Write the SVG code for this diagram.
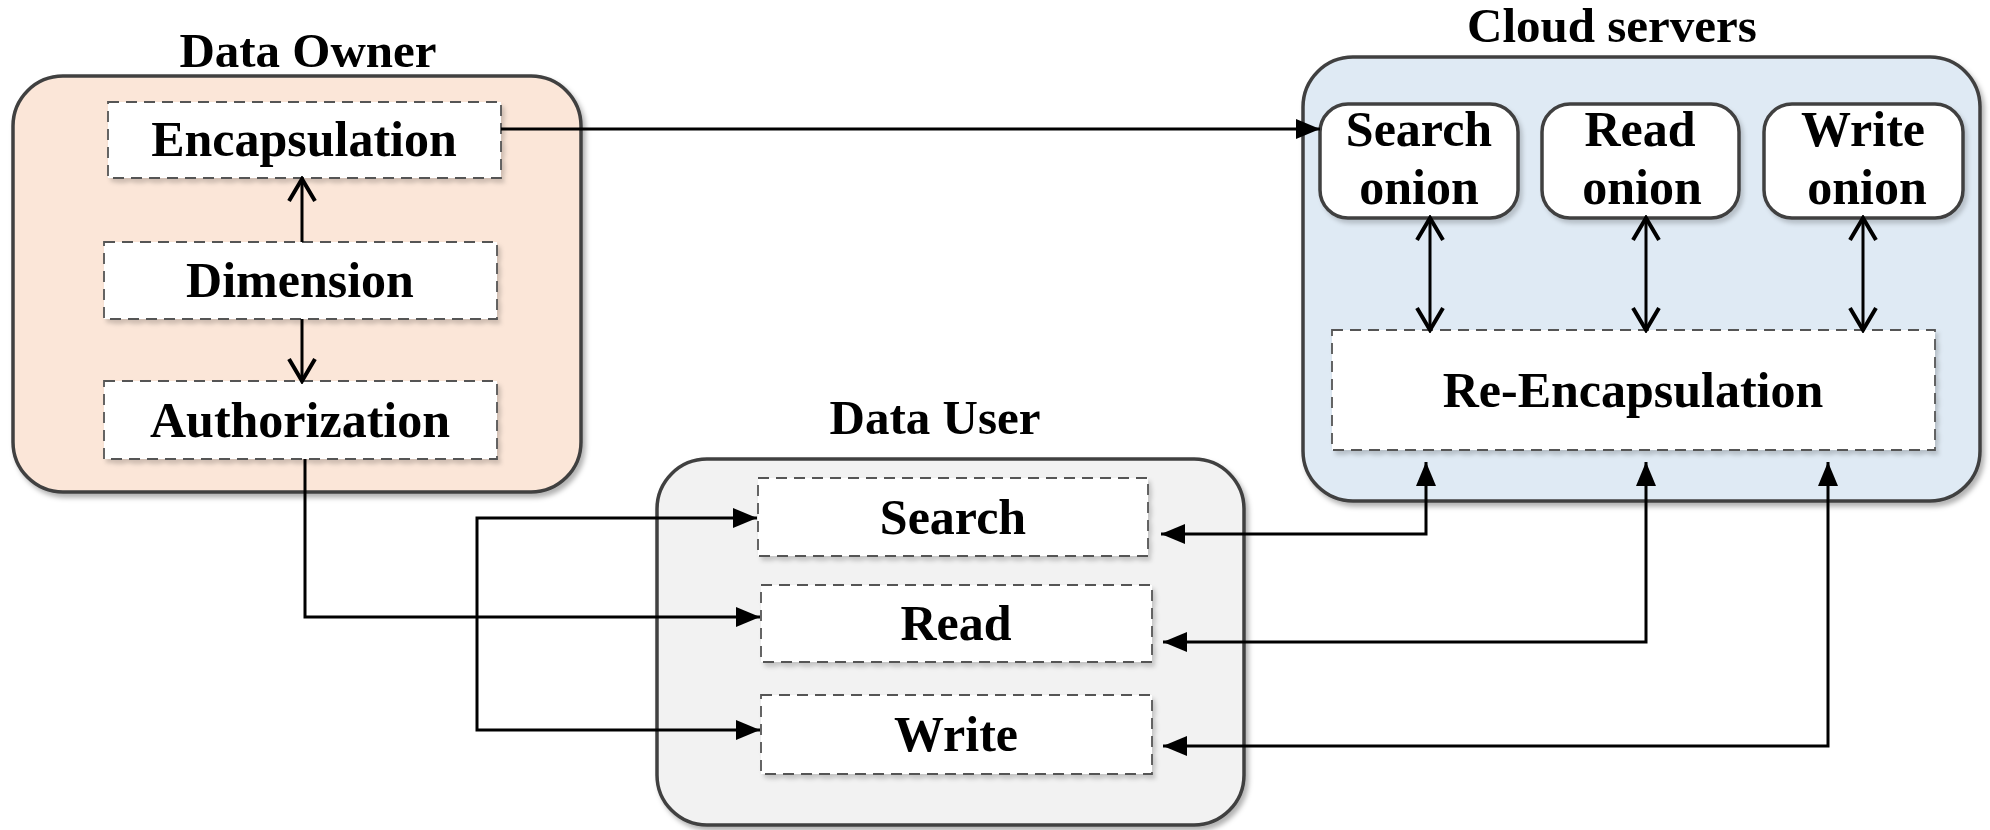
<svg xmlns="http://www.w3.org/2000/svg" width="1990" height="830" viewBox="0 0 1990 830">
  <style>
    .title { font-family: "Liberation Serif", "Times New Roman", serif; font-weight: bold; font-size: 49px; fill: #000; text-anchor: middle; }
    .label { font-family: "Liberation Serif", "Times New Roman", serif; font-weight: bold; font-size: 50px; fill: #000; text-anchor: middle; }
    .container { stroke: #404040; stroke-width: 3.5; filter: url(#shadow); }
    .step { fill: #fff; stroke: #555; stroke-width: 1.8; stroke-dasharray: 11 7; filter: url(#softshadow); }
    .onion { fill: #fff; stroke: #404040; stroke-width: 3.5; filter: url(#softshadow); }
    .wire { fill: none; stroke: #000; stroke-width: 3; }
  </style>
  <defs>
    <filter id="shadow" x="-5%" y="-5%" width="115%" height="115%">
      <feDropShadow dx="3" dy="4" stdDeviation="2.5" flood-color="#000" flood-opacity="0.3"/>
    </filter>
    <filter id="softshadow" x="-5%" y="-5%" width="115%" height="120%">
      <feDropShadow dx="3" dy="4" stdDeviation="2" flood-color="#000" flood-opacity="0.18"/>
    </filter>
    <marker id="solid" viewBox="0 0 24 20" refX="24" refY="10" markerWidth="24" markerHeight="20" markerUnits="userSpaceOnUse" orient="auto-start-reverse">
      <path d="M0,0 L24,10 L0,20 z" fill="#000"/>
    </marker>
    <marker id="open" viewBox="-3 -3 28 32" refX="22" refY="13" markerWidth="28" markerHeight="32" markerUnits="userSpaceOnUse" orient="auto-start-reverse">
      <path d="M0,0 L22,13 L0,26" fill="none" stroke="#000" stroke-width="4"/>
    </marker>
  </defs>

  <!-- Data Owner -->
  <g id="data-owner">
    <text class="title" x="308" y="67">Data Owner</text>
    <rect class="container" x="13" y="76" width="568" height="416" rx="50" fill="#FBE6D8"/>
  </g>
  <g id="encapsulation">
    <rect class="step" x="108" y="102" width="393" height="76"/>
    <text class="label" x="304" y="156">Encapsulation</text>
  </g>
  <g id="dimension">
    <rect class="step" x="104" y="242" width="393" height="77"/>
    <text class="label" x="300" y="297">Dimension</text>
  </g>
  <g id="authorization">
    <rect class="step" x="104" y="381" width="393" height="78"/>
    <text class="label" x="300" y="437">Authorization</text>
  </g>

  <!-- Cloud servers -->
  <g id="cloud-servers">
    <text class="title" x="1612" y="42">Cloud servers</text>
    <rect class="container" x="1303" y="57" width="677" height="444" rx="50" fill="#DFEAF4"/>
  </g>
  <g id="search-onion">
    <rect class="onion" x="1320" y="104" width="198" height="114" rx="28"/>
    <text class="label" x="1419" y="146">Search</text>
    <text class="label" x="1419" y="204">onion</text>
  </g>
  <g id="read-onion">
    <rect class="onion" x="1542" y="104" width="197" height="114" rx="28"/>
    <text class="label" x="1640" y="146">Read</text>
    <text class="label" x="1642" y="204">onion</text>
  </g>
  <g id="write-onion">
    <rect class="onion" x="1764" y="104" width="199" height="114" rx="28"/>
    <text class="label" x="1863" y="146">Write</text>
    <text class="label" x="1867" y="204">onion</text>
  </g>
  <g id="re-encapsulation">
    <rect class="step" x="1332" y="330" width="603" height="120"/>
    <text class="label" x="1633" y="407">Re-Encapsulation</text>
  </g>

  <!-- Data User -->
  <g id="data-user">
    <text class="title" x="935" y="434">Data User</text>
    <rect class="container" x="657" y="459" width="587" height="366" rx="50" fill="#F2F2F2"/>
  </g>
  <g id="search">
    <rect class="step" x="758" y="478" width="390" height="78"/>
    <text class="label" x="953" y="534">Search</text>
  </g>
  <g id="read">
    <rect class="step" x="761" y="585" width="391" height="77"/>
    <text class="label" x="956" y="640">Read</text>
  </g>
  <g id="write">
    <rect class="step" x="761" y="695" width="391" height="79"/>
    <text class="label" x="956" y="751">Write</text>
  </g>

  <!-- Connectors -->
  <g id="connectors">
    <path class="wire" d="M501,129 H1320" marker-end="url(#solid)"/>
    <path class="wire" d="M302,242 V179" marker-end="url(#open)"/>
    <path class="wire" d="M302,319 V381" marker-end="url(#open)"/>
    <path class="wire" d="M305,459 V617 H760" marker-end="url(#solid)"/>
    <path class="wire" d="M757,518 H477 V730 H760" marker-start="url(#solid)" marker-end="url(#solid)"/>
    <path class="wire" d="M1430,218 V330" marker-start="url(#open)" marker-end="url(#open)"/>
    <path class="wire" d="M1646,218 V330" marker-start="url(#open)" marker-end="url(#open)"/>
    <path class="wire" d="M1863,218 V330" marker-start="url(#open)" marker-end="url(#open)"/>
    <path class="wire" d="M1426,462 V534 H1161" marker-start="url(#solid)" marker-end="url(#solid)"/>
    <path class="wire" d="M1646,462 V642 H1163" marker-start="url(#solid)" marker-end="url(#solid)"/>
    <path class="wire" d="M1828,462 V746 H1163" marker-start="url(#solid)" marker-end="url(#solid)"/>
  </g>
</svg>
